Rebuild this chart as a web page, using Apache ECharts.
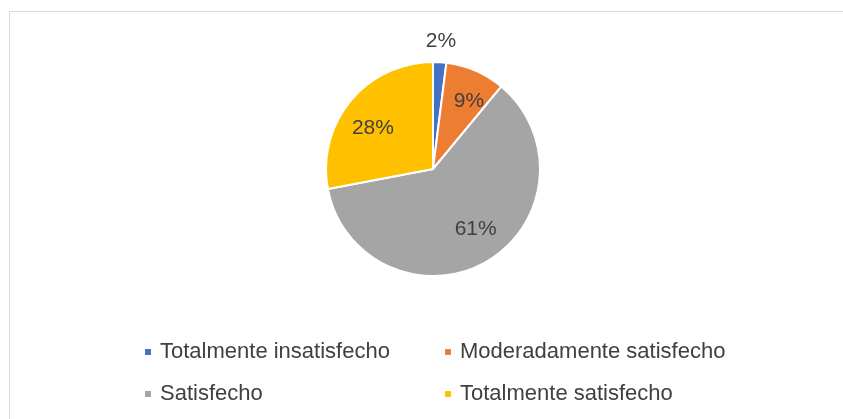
<!DOCTYPE html>
<html>
<head>
<meta charset="utf-8">
<script src="https://cdn.jsdelivr.net/npm/echarts@6/dist/echarts.min.js"></script>
<style>
  html, body { margin: 0; padding: 0; background: #fff; }
  #chart { width: 843px; height: 419px; }
</style>
</head>
<body>
<div id="chart"></div>
<script>
var categories = ['Totalmente insatisfecho', 'Moderadamente satisfecho', 'Satisfecho', 'Totalmente satisfecho'];
var values = [2, 9, 61, 28];
var colors = ['#4472C4', '#ED7D31', '#A5A5A5', '#FFC000'];
// small nudges so the labels sit where Excel's "best fit" put them
var labelOffsets = [[3, -50], [5, 4], [3, -7], [0, 9]];

var pieData = categories.map(function (name, i) {
  return { name: name, value: values[i], itemStyle: { color: colors[i] } };
});

// transparent copy of the pie, larger, only used to place the labels further out
var labelData = categories.map(function (name, i) {
  return { name: name, value: values[i], label: { offset: labelOffsets[i] } };
});

var legendText = { color: '#404040', fontSize: 22, fontFamily: 'Liberation Sans', padding: [0, 0, 0, 3] };

var myChart = echarts.init(document.getElementById('chart'));
var option = {
  animation: false,
  graphic: [{
    type: 'rect',
    shape: { x: 9.5, y: 11.5, width: 900, height: 500 },
    style: { fill: 'none', stroke: '#d9d9d9', lineWidth: 1 },
    silent: true
  }],
  legend: [{
    data: [categories[0], categories[2]],
    orient: 'vertical',
    left: 138,
    top: 336,
    itemGap: 20,
    itemWidth: 8,
    itemHeight: 8,
    icon: 'rect',
    textStyle: legendText
  }, {
    data: [categories[1], categories[3]],
    orient: 'vertical',
    left: 438,
    top: 336,
    itemGap: 20,
    itemWidth: 8,
    itemHeight: 8,
    icon: 'rect',
    textStyle: legendText
  }],
  series: [{
    type: 'pie',
    center: [433, 169],
    radius: 107,
    startAngle: 90,
    clockwise: true,
    label: { show: false },
    labelLine: { show: false },
    itemStyle: { borderColor: '#fff', borderWidth: 2 },
    emphasis: { disabled: true },
    data: pieData
  }, {
    type: 'pie',
    center: [433, 169],
    radius: 150,
    startAngle: 90,
    clockwise: true,
    silent: true,
    legendHoverLink: false,
    itemStyle: { color: 'rgba(0,0,0,0)' },
    label: {
      show: true,
      position: 'inside',
      formatter: '{c}%',
      color: '#404040',
      fontSize: 21,
      fontFamily: 'Liberation Sans'
    },
    labelLine: { show: false },
    emphasis: { disabled: true },
    data: labelData
  }]
};
myChart.setOption(option);
</script>
</body>
</html>
